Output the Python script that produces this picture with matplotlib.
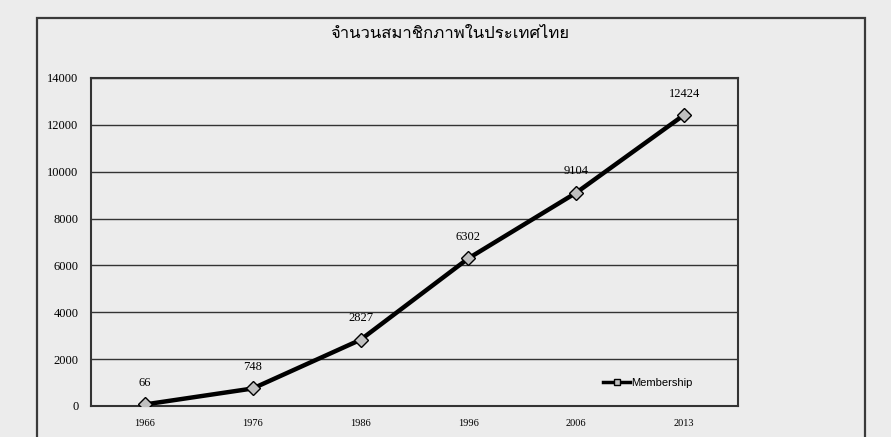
import matplotlib
matplotlib.use('Agg')
import matplotlib.pyplot as plt
from matplotlib import font_manager
from matplotlib.ft2font import FT2Font
from matplotlib.lines import Line2D
from matplotlib.patches import Rectangle

# Data
years = ['1966', '1976', '1986', '1996', '2006', '2013']
members = [66, 748, 2827, 6302, 9104, 12424]
title = 'จำนวนสมาชิกภาพในประเทศไทย'


def thai_font():
    # find an installed font that has Thai glyphs
    for f in font_manager.fontManager.ttflist:
        try:
            cmap = FT2Font(f.fname).get_charmap()
        except Exception:
            continue
        if ord('จ') in cmap and ord('ภ') in cmap:
            return f.name
    return 'DejaVu Sans'


serif = 'Liberation Serif'
bg = '#ececec'

fig = plt.figure(figsize=(8.91, 4.37), dpi=100, facecolor=bg)

# outer chart frame
fig.patches.append(Rectangle((37/891, -0.1), (865-37)/891, 1.1 - 18/437,
                             transform=fig.transFigure, fill=False,
                             edgecolor='#3a3a3a', linewidth=1.6))

ax = fig.add_axes([91/891, 1 - 406/437, 647/891, 328/437])
ax.set_facecolor(bg)

x = range(len(years))
ax.plot(x, members, color='black', linewidth=3.2, marker='D', markersize=7.5,
        markerfacecolor='#c0c0c0', markeredgecolor='black', markeredgewidth=1,
        zorder=3)

for xi, v in zip(x, members):
    ax.annotate(str(v), (xi, v), xytext=(0, 11), textcoords='offset points',
                ha='center', va='bottom', fontsize=9, family=serif)

ax.set_xlim(-0.5, len(years) - 0.5)
ax.set_ylim(0, 14000)
ax.set_yticks(range(0, 14001, 2000))
ax.set_xticks(list(x))
ax.set_xticklabels(years, fontsize=7.5, family=serif)
for lbl in ax.get_yticklabels():
    lbl.set_fontsize(9)
    lbl.set_family(serif)
ax.tick_params(length=0)
ax.tick_params(axis='y', pad=9)
ax.tick_params(axis='x', pad=9)
ax.grid(axis='y', color='#333333', linewidth=1)
ax.set_axisbelow(True)
for s in ax.spines.values():
    s.set_color('#333333')
    s.set_linewidth(1.5)

handle = Line2D([], [], color='black', linewidth=2.5, marker='s', markersize=5,
                markerfacecolor='#c0c0c0', markeredgecolor='black')
ax.legend([handle], ['Membership'], loc='center right',
          bbox_to_anchor=(0.945, 0.07), frameon=False, handlelength=2.4,
          handletextpad=0.1, prop={'family': 'Liberation Sans', 'size': 8})

fig.text(0.505, 1 - 34/437, title, ha='center', va='center', fontsize=12,
         family=[thai_font(), 'DejaVu Sans'])

plt.savefig('out.png', dpi=100, facecolor=bg)
